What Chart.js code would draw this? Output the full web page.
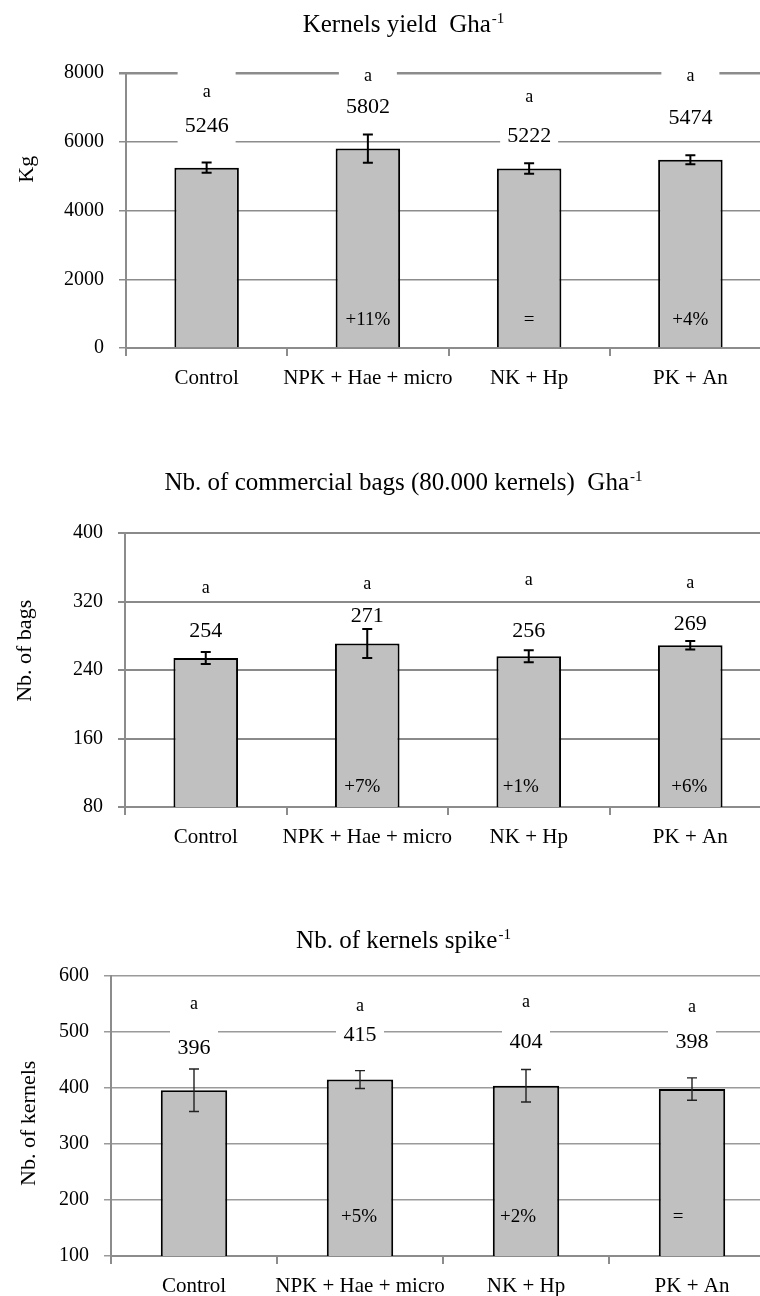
<!DOCTYPE html>
<html>
<head>
<meta charset="utf-8">
<script src="https://cdn.jsdelivr.net/npm/chart.js@4/dist/chart.umd.min.js"></script>
<style>
  html, body { margin: 0; padding: 0; background: #fff; width: 760px; height: 1296px; overflow: hidden; }
  .panel { position: absolute; left: 0; width: 790px; }
</style>
</head>
<body>
<div class="panel" style="top:0;height:420px"><canvas id="yieldChart" width="790" height="420"></canvas></div>
<div class="panel" style="top:420px;height:440px"><canvas id="bagsChart" width="790" height="440"></canvas></div>
<div class="panel" style="top:860px;height:450px"><canvas id="kernelsChart" width="790" height="450"></canvas></div>
<script>
const treatments = ['Control', 'NPK + Hae + micro', 'NK + Hp', 'PK + An'];

// kernels yield per ha (kg)
const yieldKg = [5246, 5802, 5222, 5474];
const yieldErr = [150, 410, 150, 130];
const yieldLetters = ['a', 'a', 'a', 'a'];
const yieldGain = ['', '+11%', '=', '+4%'];
const yieldTicks = [0, 2000, 4000, 6000, 8000];

// commercial bags per ha
const bags = [254, 271, 256, 269];
const bagsErr = [7, 17, 7, 5];
const bagsLetters = ['a', 'a', 'a', 'a'];
const bagsGain = ['', '+7%', '+1%', '+6%'];
const bagsTicks = [80, 160, 240, 320, 400];

// kernels per spike
const kernels = [396, 415, 404, 398];
const kernelsErr = [38, 16, 29, 20];
const kernelsLetters = ['a', 'a', 'a', 'a'];
const kernelsGain = ['', '+5%', '+2%', '='];
const kernelsTicks = [100, 200, 300, 400, 500, 600];

const SERIF = '"Liberation Serif", "Times New Roman", serif';

// error bars, value labels, letters, % gains, titles
const annot = {
  id: 'annot',
  afterDatasetsDraw(chart, args, o) {
    const { ctx, chartArea } = chart;
    const xs = chart.scales.x, ys = chart.scales.y;
    const vals = chart.data.datasets[0].data;
    ctx.save();

    const spots = vals.map((v, i) => {
      const cx = xs.getPixelForValue(i);
      const top = ys.getPixelForValue(v + o.errors[i]);
      const bot = ys.getPixelForValue(v - o.errors[i]);
      const vy = top - o.valueLift[i];
      return { cx, top, bot, vy, ay: vy - o.letterLift[i] };
    });

    // error bars
    ctx.strokeStyle = o.errColor;
    ctx.lineWidth = o.errWidth;
    spots.forEach(s => {
      ctx.beginPath();
      ctx.moveTo(s.cx, s.top); ctx.lineTo(s.cx, s.bot);
      ctx.moveTo(s.cx - 5, s.top); ctx.lineTo(s.cx + 5, s.top);
      ctx.moveTo(s.cx - 5, s.bot); ctx.lineTo(s.cx + 5, s.bot);
      ctx.stroke();
    });

    // white label boxes hide the gridlines behind them
    if (o.box) {
      ctx.fillStyle = '#fff';
      spots.forEach(s => {
        ctx.fillRect(s.cx - o.box.w / 2, s.vy - o.box.hV, o.box.w, o.box.hV * 2);
        ctx.fillRect(s.cx - o.box.w / 2, s.ay - o.box.hA, o.box.w, o.box.hA * 2);
      });
    }

    ctx.fillStyle = '#000';
    ctx.textAlign = 'center';
    ctx.textBaseline = 'middle';
    spots.forEach((s, i) => {
      ctx.font = `22px ${SERIF}`;
      ctx.fillText(String(vals[i]), s.cx, s.vy);
      ctx.font = `18px ${SERIF}`;
      ctx.fillText(o.letters[i], s.cx, s.ay);
      if (o.gains[i]) {
        ctx.font = `19px ${SERIF}`;
        ctx.fillText(o.gains[i], s.cx + o.gainDx[i], ys.getPixelForValue(o.gainAt));
      }
    });

    // y axis title
    ctx.save();
    ctx.translate(o.axisX, chartArea.top + o.axisFrac * (chartArea.bottom - chartArea.top));
    ctx.rotate(-Math.PI / 2);
    ctx.font = `22px ${SERIF}`;
    ctx.fillText(o.axisTitle, 0, 0);
    ctx.restore();

    // chart title with superscript
    ctx.textAlign = 'left';
    ctx.textBaseline = 'alphabetic';
    ctx.font = `25px ${SERIF}`;
    const w1 = ctx.measureText(o.title).width;
    ctx.font = `15px ${SERIF}`;
    const w2 = ctx.measureText(o.sup).width;
    const x0 = 403 - (w1 + w2) / 2;
    ctx.font = `25px ${SERIF}`;
    ctx.fillText(o.title, x0, o.titleY);
    ctx.font = `15px ${SERIF}`;
    ctx.fillText(o.sup, x0 + w1 + 1, o.titleY - 9);
    ctx.restore();
  }
};

function barChart(id, values, ticks, gridColor, gridWidth, layout, annotOpts) {
  return new Chart(document.getElementById(id), {
    type: 'bar',
    data: {
      labels: treatments,
      datasets: [{
        data: values,
        backgroundColor: '#c0c0c0',
        borderColor: '#000',
        borderWidth: 2,
        barPercentage: 0.4,
        categoryPercentage: 1
      }]
    },
    options: {
      responsive: false,
      animation: false,
      layout: { padding: layout.padding },
      plugins: { legend: { display: false }, tooltip: { enabled: false }, annot: annotOpts },
      scales: {
        x: {
          afterFit: s => { s.height = 48; },
          grid: { drawOnChartArea: false, tickLength: 8, color: '#8c8c8c', lineWidth: 2 },
          border: { color: '#8c8c8c', width: 2 },
          ticks: {
            color: '#000', padding: 10, autoSkip: false, maxRotation: 0, minRotation: 0,
            font: { family: SERIF, size: 21 }
          }
        },
        y: {
          min: ticks[0],
          max: ticks[ticks.length - 1],
          afterFit: s => { s.width = layout.left; },
          afterBuildTicks: s => { s.ticks = ticks.map(v => ({ value: v })); },
          grid: { color: gridColor, lineWidth: gridWidth, tickLength: 7 },
          border: { color: '#8c8c8c', width: 2 },
          ticks: {
            color: '#000', padding: 15, font: { family: SERIF, size: 20 },
            callback: v => String(v)
          }
        }
      }
    },
    plugins: [annot]
  });
}

barChart('yieldChart', yieldKg, yieldTicks, '#8c8c8c',
  c => (c.tick && c.tick.value === 8000 ? 2.5 : 1.5),
  { left: 126, padding: { top: 73, right: 19, bottom: 24, left: 0 } },
  {
    title: 'Kernels yield  Gha', sup: '-1', titleY: 32,
    axisTitle: 'Kg', axisX: 27, axisFrac: 0.35,
    errors: yieldErr, errColor: '#000', errWidth: 2,
    letters: yieldLetters, valueLift: [36, 27, 27, 37], letterLift: [34, 31, 39, 42],
    gains: yieldGain, gainAt: 800, gainDx: [0, 0, 0, 0],
    box: { w: 58, hV: 18, hA: 21 }
  });

barChart('bagsChart', bags, bagsTicks, '#8a8a8a', 2,
  { left: 125, padding: { top: 113, right: 19, bottom: 5, left: 0 } },
  {
    title: 'Nb. of commercial bags (80.000 kernels)  Gha', sup: '-1', titleY: 70,
    axisTitle: 'Nb. of bags', axisX: 25, axisFrac: 0.43,
    errors: bagsErr, errColor: '#000', errWidth: 2,
    letters: bagsLetters, valueLift: [21, 13, 19, 17], letterLift: [43, 32, 51, 41],
    gains: bagsGain, gainAt: 103, gainDx: [0, -5, -8, -1],
    box: null
  });

barChart('kernelsChart', kernels, kernelsTicks, '#9a9a9a', 1.5,
  { left: 111, padding: { top: 116, right: 15, bottom: 6, left: 0 } },
  {
    title: 'Nb. of kernels spike', sup: '-1', titleY: 88,
    axisTitle: 'Nb. of kernels', axisX: 29, axisFrac: 0.526,
    errors: kernelsErr, errColor: '#222', errWidth: 1.4,
    letters: kernelsLetters, valueLift: [21, 35, 27, 36], letterLift: [44, 29, 40, 35],
    gains: kernelsGain, gainAt: 170, gainDx: [0, -1, -8, -14],
    box: { w: 48, hV: 17, hA: 12 }
  });
</script>
</body>
</html>
